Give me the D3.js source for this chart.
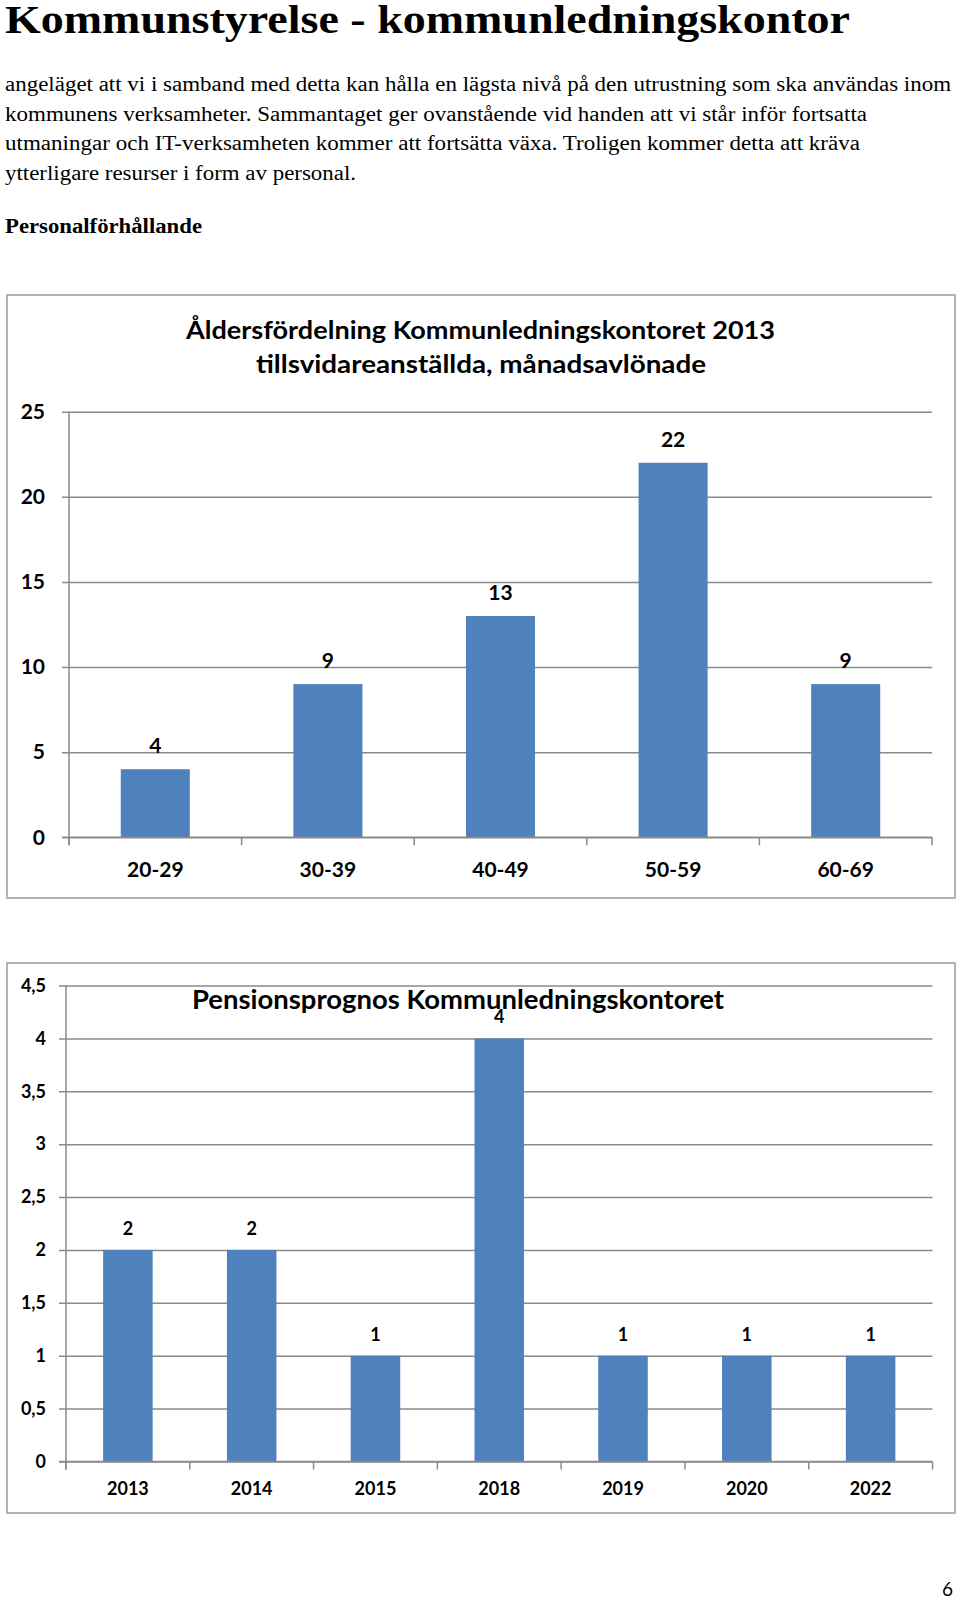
<!DOCTYPE html>
<html>
<head>
<meta charset="utf-8">
<script src="https://cdn.jsdelivr.net/npm/d3@7"></script>
<style>
  html, body { margin: 0; padding: 0; background: #fff; }
  svg { display: block; }
</style>
</head>
<body>
<svg id="page" width="960" height="1599"></svg>
<script>
// ---------- Data ----------
const pageTitle = "Kommunstyrelse - kommunledningskontor";
const paragraphLines = [
  "angeläget att vi i samband med detta kan hålla en lägsta nivå på den utrustning som ska användas inom",
  "kommunens verksamheter. Sammantaget ger ovanstående vid handen att vi står inför fortsatta",
  "utmaningar och IT-verksamheten kommer att fortsätta växa. Troligen kommer detta att kräva",
  "ytterligare resurser i form av personal."
];
const sectionHeading = "Personalförhållande";

const ageTitleLines = ["Åldersfördelning Kommunledningskontoret 2013", "tillsvidareanställda, månadsavlönade"];
const ageCategories = ["20-29", "30-39", "40-49", "50-59", "60-69"];
const ageValues = [4, 9, 13, 22, 9];
const ageTicks = [0, 5, 10, 15, 20, 25];

const pensionTitle = "Pensionsprognos Kommunledningskontoret";
const pensionCategories = ["2013", "2014", "2015", "2018", "2019", "2020", "2022"];
const pensionValues = [2, 2, 1, 4, 1, 1, 1];
const pensionTicks = [0, 0.5, 1, 1.5, 2, 2.5, 3, 3.5, 4, 4.5];

const pageNumber = "6";

// ---------- Styles ----------
const BAR = "#4f81bd";
const GRID = "#8a8a8a";
const FRAME = "#b3b3b3";
const SANS = "Lato, 'Open Sans', sans-serif";
const SERIF = "'Liberation Serif', 'Times New Roman', serif";

const svg = d3.select("#page");

// ---------- Header text ----------
svg.append("text")
  .attr("x", 5).attr("y", 33)
  .attr("font-family", SERIF).attr("font-weight", "bold").attr("font-size", 40)
  .attr("textLength", 845).attr("lengthAdjust", "spacingAndGlyphs")
  .text(pageTitle);

const paraWidths = [946, 862, 855, 351];
svg.append("g").selectAll("text").data(paragraphLines).join("text")
  .attr("x", 5).attr("y", (d, i) => 91 + i * 29.7)
  .attr("font-family", SERIF).attr("font-size", 20)
  .attr("textLength", (d, i) => paraWidths[i]).attr("lengthAdjust", "spacingAndGlyphs")
  .text(d => d);

svg.append("text")
  .attr("x", 5).attr("y", 233)
  .attr("font-family", SERIF).attr("font-weight", "bold").attr("font-size", 20)
  .attr("textLength", 197).attr("lengthAdjust", "spacingAndGlyphs")
  .text(sectionHeading);

// ---------- Generic bar chart ----------
function barChart(o) {
  const g = svg.append("g");
  // frame
  g.append("rect")
    .attr("x", o.frame[0]).attr("y", o.frame[1])
    .attr("width", o.frame[2] - o.frame[0]).attr("height", o.frame[3] - o.frame[1])
    .attr("fill", "#fff").attr("stroke", FRAME).attr("stroke-width", 2);

  const y = d3.scaleLinear().domain([0, d3.max(o.ticks)]).range([o.y0, o.y1]);
  const xb = d3.scaleBand().domain(o.categories).range([o.x0, o.x1]).padding(0);

  // gridlines + y labels
  const yAxis = d3.axisLeft(y).tickValues(o.ticks)
    .tickSizeInner(-(o.x1 - (o.x0 - 7))).tickSizeOuter(0)
    .tickPadding(o.x0 - 7 - o.labelRight)
    .tickFormat(o.fmt);
  const ya = g.append("g").attr("transform", `translate(${o.x0 - 7},0)`).call(yAxis);
  ya.select(".domain").remove();
  ya.selectAll(".tick line").attr("stroke", GRID).attr("stroke-width", 1.5);
  ya.selectAll(".tick text")
    .attr("font-family", SANS).attr("font-weight", "bold").attr("font-size", o.tickFont)
    .attr("fill", "#000");

  // vertical axis line
  g.append("line")
    .attr("x1", o.x0).attr("x2", o.x0).attr("y1", y(d3.max(o.ticks))).attr("y2", o.y0 + 8)
    .attr("stroke", GRID).attr("stroke-width", 1.5);

  // bars
  g.append("g").selectAll("rect").data(o.values).join("rect")
    .attr("x", (d, i) => xb(o.categories[i]) + xb.bandwidth() * 0.3)
    .attr("width", xb.bandwidth() * 0.4)
    .attr("y", d => y(d))
    .attr("height", d => y(0) - y(d))
    .attr("fill", BAR);

  // x axis baseline + boundary ticks
  g.append("line")
    .attr("x1", o.x0 - 7).attr("x2", o.x1).attr("y1", y(0)).attr("y2", y(0))
    .attr("stroke", GRID).attr("stroke-width", 1.5);
  const bounds = o.categories.map(c => xb(c)).concat([o.x1]);
  g.append("g").selectAll("line").data(bounds).join("line")
    .attr("x1", d => d).attr("x2", d => d)
    .attr("y1", y(0)).attr("y2", y(0) + 8)
    .attr("stroke", GRID).attr("stroke-width", 1.5);

  // x labels
  g.append("g").selectAll("text").data(o.categories).join("text")
    .attr("x", d => xb(d) + xb.bandwidth() / 2)
    .attr("y", o.xLabelY)
    .attr("text-anchor", "middle")
    .attr("font-family", SANS).attr("font-weight", "bold").attr("font-size", o.tickFont)
    .text(d => d);

  // value labels
  g.append("g").selectAll("text").data(o.values).join("text")
    .attr("x", (d, i) => xb(o.categories[i]) + xb.bandwidth() / 2)
    .attr("y", d => y(d) - o.valueGap)
    .attr("text-anchor", "middle")
    .attr("font-family", SANS).attr("font-weight", "bold").attr("font-size", o.valueFont)
    .text(d => o.fmt(d));

  // title
  g.append("g").selectAll("text").data(o.title).join("text")
    .attr("x", (d, i) => o.titlePos[i][0])
    .attr("y", (d, i) => o.titlePos[i][1])
    .attr("text-anchor", "middle")
    .attr("font-family", SANS).attr("font-weight", "bold").attr("font-size", o.titleFont)
    .attr("textLength", (d, i) => o.titlePos[i][2]).attr("lengthAdjust", "spacingAndGlyphs")
    .text(d => d);
}

barChart({
  frame: [7, 295, 955, 898],
  categories: ageCategories, values: ageValues, ticks: ageTicks,
  x0: 69, x1: 932, y0: 837.3, y1: 411.7,
  labelRight: 45, tickFont: 21, valueFont: 21, valueGap: 16,
  xLabelY: 877,
  fmt: d => String(d),
  title: ageTitleLines,
  titlePos: [[480.5, 339, 589], [481, 373, 450]],
  titleFont: 25
});

barChart({
  frame: [7, 963, 955, 1513],
  categories: pensionCategories, values: pensionValues, ticks: pensionTicks,
  x0: 66, x1: 932.5, y0: 1461.5, y1: 985.5,
  labelRight: 46, tickFont: 18, valueFont: 18, valueGap: 15,
  xLabelY: 1495,
  fmt: d => String(d).replace(".", ","),
  title: [pensionTitle],
  titlePos: [[458, 1009, 532]],
  titleFont: 26
});

// page number
svg.append("text")
  .attr("x", 953).attr("y", 1596)
  .attr("text-anchor", "end")
  .attr("font-family", SANS).attr("font-size", 19)
  .text(pageNumber);
</script>
</body>
</html>
